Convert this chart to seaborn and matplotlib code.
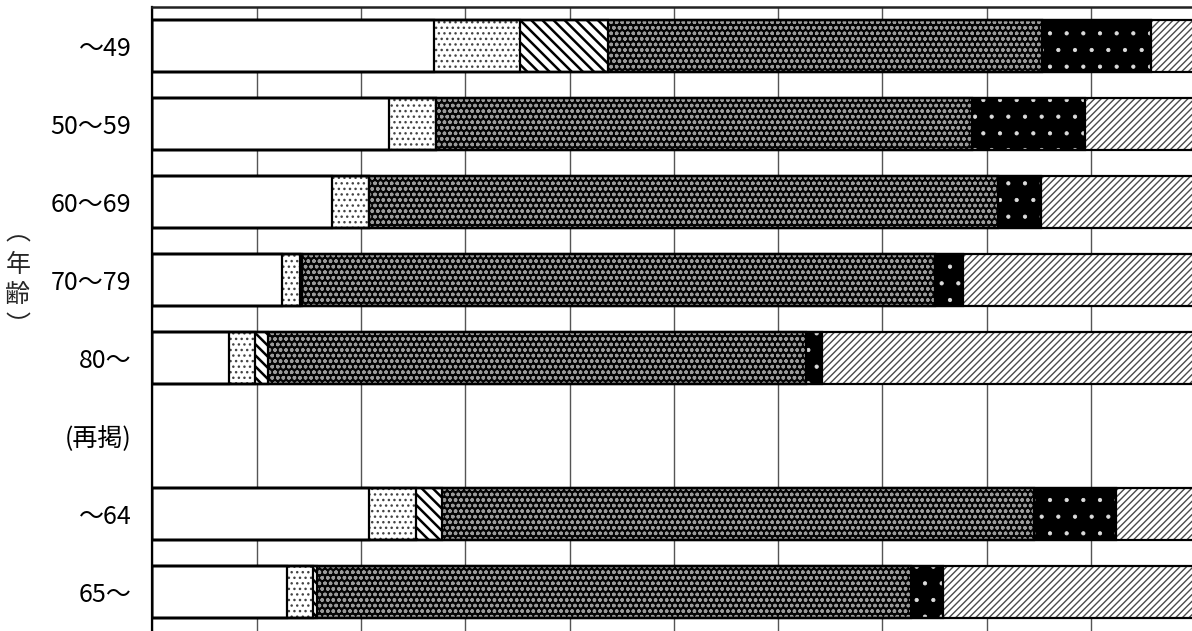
import numpy as np
import pandas as pd
import matplotlib
matplotlib.use("Agg")
import matplotlib.pyplot as plt
from matplotlib.ticker import MultipleLocator
import seaborn as sns

# age groups (row labels), "(再掲)" is an empty separator row
ages = ["～49", "50～59", "60～69", "70～79", "80～", "(再掲)", "～64", "65～"]

# shares (%) per answer, left -> right
white_part = [27.0, 22.7, 17.2, 12.4, 7.4, np.nan, 20.8, 12.9]
light_dots = [8.3, 4.5, 3.6, 1.8, 2.4, np.nan, 4.5, 2.5]
back_diag = [8.4, 0.0, 0.0, 0.2, 1.3, np.nan, 2.5, 0.4]
dark_fill = [41.6, 51.4, 60.3, 60.6, 51.6, np.nan, 56.7, 56.9]
black_dots = [10.5, 10.8, 4.1, 2.7, 1.5, np.nan, 7.9, 3.1]
light_diag = [4.2, 10.6, 14.8, 22.3, 35.8, np.nan, 7.6, 24.2]

segments = [white_part, light_dots, back_diag, dark_fill, black_dots, light_diag]
# (face colour, hatch colour, hatch, hatch linewidth)
styles = [
    ("white", "white", None, 1.0),
    ("white", "#444444", "...", 1.0),
    ("white", "black", "\\\\\\", 1.8),
    ("#050505", "#9a9a9a", "ooo", 1.0),
    ("black", "#dddddd", ".", 0.6),
    ("white", "#4a4a4a", "/////", 1.0),
]

sns.set_style("white")
plt.rcParams["font.family"] = ["Noto Sans CJK JP", "DejaVu Sans"]
plt.rcParams["hatch.linewidth"] = 1.0

fig = plt.figure(figsize=(11.92, 6.31), dpi=100)
ax = fig.add_axes([152.3 / 1192, 0.0, 1043 / 1192, 1 - 7.3 / 631])

vals = np.array(segments, dtype=float)
cum = np.cumsum(vals, axis=0)
bar_h = 52 / 78

# stacked bars: draw cumulative totals from the widest down, each covers the previous
for i in range(len(segments) - 1, -1, -1):
    face, hcol, hatch, hlw = styles[i]
    df = pd.DataFrame({"age": ages, "total": cum[i]})
    sns.barplot(data=df, x="total", y="age", order=ages, orient="h",
                width=bar_h, errorbar=None, ax=ax, zorder=2)
    for bar in ax.containers[-1]:
        bar.set_facecolor(face)
        bar.set_edgecolor(hcol)
        bar.set_linewidth(0)
        bar.set_hatch(hatch)
        if hasattr(bar, "set_hatch_linewidth"):
            bar.set_hatch_linewidth(hlw)

# black outlines for every segment boundary
ypos = np.arange(len(ages))
for i in range(len(segments)):
    ok = ~np.isnan(cum[i])
    ax.barh(ypos[ok], cum[i][ok], height=bar_h, fill=False,
            edgecolor="black", linewidth=1.6, zorder=3)

ax.set_xlim(0, 100)
ax.set_ylim(len(ages) - 0.5, -0.5)
ax.set_xticks(np.arange(0, 101, 10))
ax.set_xticklabels([])
ax.tick_params(axis="x", length=0)
ax.grid(axis="x", color="#555555", linewidth=1.0, zorder=0)
ax.set_axisbelow(True)

ax.tick_params(axis="y", which="major", length=0, pad=15, labelsize=18,
               labelcolor="black")
ax.yaxis.set_minor_locator(MultipleLocator(1, offset=0.5))
ax.tick_params(axis="y", which="minor", direction="in", length=7,
               width=1.0, color="#444444")
ax.set_xlabel("")
ax.set_ylabel("")

for side in ["right", "bottom"]:
    ax.spines[side].set_visible(False)
ax.spines["top"].set_linewidth(1.8)
ax.spines["top"].set_color("#222222")
ax.spines["left"].set_linewidth(1.6)
ax.spines["left"].set_color("black")

# vertical axis title (年齢)
fig.text(18 / 1192, 1 - 280 / 631, "︵\n年\n齢\n︶", ha="center", va="center",
         fontsize=18, linespacing=1.25, multialignment="center")

fig.savefig("out.png", dpi=100)
